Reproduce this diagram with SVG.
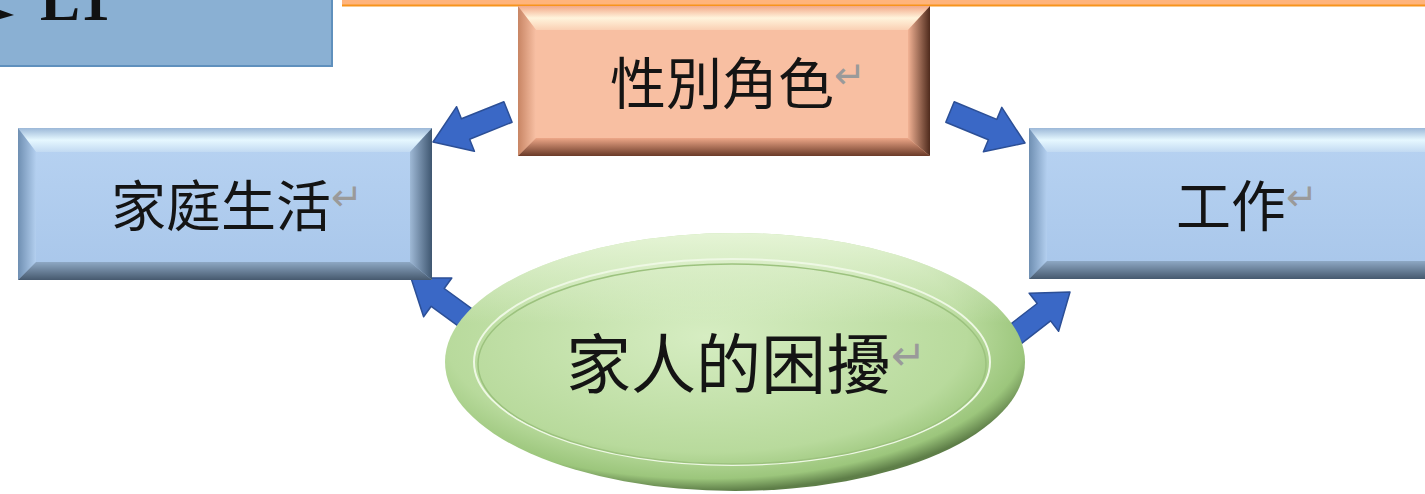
<svg xmlns="http://www.w3.org/2000/svg" width="1425" height="494" viewBox="0 0 1425 494">
<style>
.cjk{font-family:"Liberation Serif","Noto Sans CJK TC",serif;fill:#141414}
.ret{font-family:"DejaVu Sans","Noto Sans CJK TC",sans-serif;fill:#9a9a9a}
.arrow{fill:#3A68C6;stroke:#2C4F96;stroke-width:1.5;stroke-linejoin:round}
.pk-top{fill:url(#pkTop)}.pk-left{fill:url(#pkLeft)}.pk-right{fill:url(#pkRight)}.pk-bot{fill:url(#pkBot)}.pk-mid{fill:#F8BFA2}
.bl-top{fill:url(#blTop)}.bl-left{fill:url(#blLeft)}.bl-right{fill:url(#blRight)}.bl-bot{fill:url(#blBot)}.bl-mid{fill:url(#blMid)}
</style>
<defs>
<linearGradient id="pkTop" x1="0" y1="0" x2="0" y2="1"><stop offset="0" stop-color="#F2A888"/><stop offset="0.5" stop-color="#FFF4DC"/><stop offset="1" stop-color="#FAD0B4"/></linearGradient>
<linearGradient id="pkLeft" x1="0" y1="0" x2="1" y2="0"><stop offset="0" stop-color="#C88564"/><stop offset="1" stop-color="#F8C0A4"/></linearGradient>
<linearGradient id="pkRight" x1="0" y1="0" x2="1" y2="0"><stop offset="0" stop-color="#F2B294"/><stop offset="1" stop-color="#4E2A1C"/></linearGradient>
<linearGradient id="pkBot" x1="0" y1="0" x2="0" y2="1"><stop offset="0" stop-color="#EDA788"/><stop offset="1" stop-color="#6A3A28"/></linearGradient>
<linearGradient id="blTop" x1="0" y1="0" x2="0" y2="1"><stop offset="0" stop-color="#9CB8D8"/><stop offset="0.5" stop-color="#E6F8FF"/><stop offset="1" stop-color="#C2DAF2"/></linearGradient>
<linearGradient id="blLeft" x1="0" y1="0" x2="1" y2="0"><stop offset="0" stop-color="#6F8FB2"/><stop offset="1" stop-color="#B3CFEF"/></linearGradient>
<linearGradient id="blRight" x1="0" y1="0" x2="1" y2="0"><stop offset="0" stop-color="#9FB9D6"/><stop offset="1" stop-color="#3E5670"/></linearGradient>
<linearGradient id="blBot" x1="0" y1="0" x2="0" y2="1"><stop offset="0" stop-color="#8EA8C4"/><stop offset="1" stop-color="#46596E"/></linearGradient>
<linearGradient id="blMid" x1="0" y1="0" x2="0" y2="1"><stop offset="0" stop-color="#B8D3F2"/><stop offset="1" stop-color="#A8C6EA"/></linearGradient>
<radialGradient id="elFill" cx="0.45" cy="0.4" r="0.6"><stop offset="0" stop-color="#D6EDC2"/><stop offset="0.75" stop-color="#B8DA9C"/><stop offset="0.92" stop-color="#9CC67C"/><stop offset="1" stop-color="#5E7E48"/></radialGradient>
<linearGradient id="elTop" x1="0" y1="0" x2="0" y2="1"><stop offset="0" stop-color="#EAF7DC" stop-opacity="0.9"/><stop offset="0.35" stop-color="#EAF7DC" stop-opacity="0"/></linearGradient>
</defs>

<g id="header">
<rect x="0" y="0" width="332" height="66" fill="#8AB0D3"/>
<path d="M332 0 V66 H0" fill="none" stroke="#5F90BD" stroke-width="2"/>
<polygon points="0,10 14,15 0,19" fill="#111"/>
<text x="40" y="20" font-family="Liberation Serif, serif" font-weight="bold" font-size="60" fill="#111">L1</text>
<rect x="342" y="0" width="1083" height="5" fill="#FFB47C"/>
<line x1="342" y1="5.5" x2="1425" y2="5.5" stroke="#F7941D" stroke-width="2"/>
</g>

<g id="connectors">
<polygon class="arrow" points="433,142 456.6,106.7 461.4,118.8 503.9,101.8 512.1,122.2 469.6,139.2 474.4,151.3"/>
<polygon class="arrow" points="1025,143 1001.8,107.4 996.8,119.4 954.2,101.8 945.8,122.2 988.4,139.8 983.4,151.8"/>
<polygon class="arrow" points="411,278 451.8,278 444.2,288.5 476.5,312.1 463.5,329.9 431.2,306.3 423.6,316.8"/>
<polygon class="arrow" points="1070,292 1058.6,331.2 1050.6,320.9 1014.7,348.7 1001.3,331.3 1037.2,303.5 1029.2,293.2"/>
</g>

<g id="node-gender">
<polygon class="pk-mid" points="518,6 930,6 930,156 518,156"/>
<polygon class="pk-top" points="518,6 930,6 908,30 536,30"/>
<polygon class="pk-left" points="518,6 536,30 536,138 518,156"/>
<polygon class="pk-right" points="930,6 930,156 908,138 908,30"/>
<polygon class="pk-bot" points="518,156 930,156 908,138 536,138"/>
<text class="cjk" x="610" y="104" font-size="56">性別角色<tspan class="ret" font-size="38" dy="-16">↵</tspan></text>
</g>

<g id="node-family">
<polygon class="bl-mid" points="18,128 432,128 432,280 18,280"/>
<polygon class="bl-top" points="18,128 432,128 410,152 36,152"/>
<polygon class="bl-left" points="18,128 36,152 36,262 18,280"/>
<polygon class="bl-right" points="432,128 432,280 410,262 410,152"/>
<polygon class="bl-bot" points="18,280 432,280 410,262 36,262"/>
<text class="cjk" x="111" y="226" font-size="55">家庭生活<tspan class="ret" font-size="38" dy="-16">↵</tspan></text>
</g>

<g id="node-work">
<polygon class="bl-mid" points="1029,128 1447,128 1447,279 1029,279"/>
<polygon class="bl-top" points="1029,128 1447,128 1425,152 1047,152"/>
<polygon class="bl-left" points="1029,128 1047,152 1047,261 1029,279"/>
<polygon class="bl-right" points="1447,128 1447,279 1425,261 1425,152"/>
<polygon class="bl-bot" points="1029,279 1447,279 1425,261 1047,261"/>
<text class="cjk" x="1176" y="226" font-size="55">工作<tspan class="ret" font-size="38" dy="-16">↵</tspan></text>
</g>

<g id="node-trouble">
<ellipse cx="735" cy="362" rx="290" ry="129" fill="url(#elFill)"/>
<ellipse cx="735" cy="362" rx="290" ry="129" fill="url(#elTop)"/>
<ellipse cx="732" cy="362" rx="258" ry="103" fill="none" stroke="#EEF8E4" stroke-width="2"/>
<ellipse cx="732" cy="364" rx="254" ry="100" fill="none" stroke="#9CC27E" stroke-width="1.5"/>
<text class="cjk" x="566" y="388" font-size="65">家人的困擾<tspan class="ret" font-size="42" dy="-18">↵</tspan></text>
</g>
</svg>
